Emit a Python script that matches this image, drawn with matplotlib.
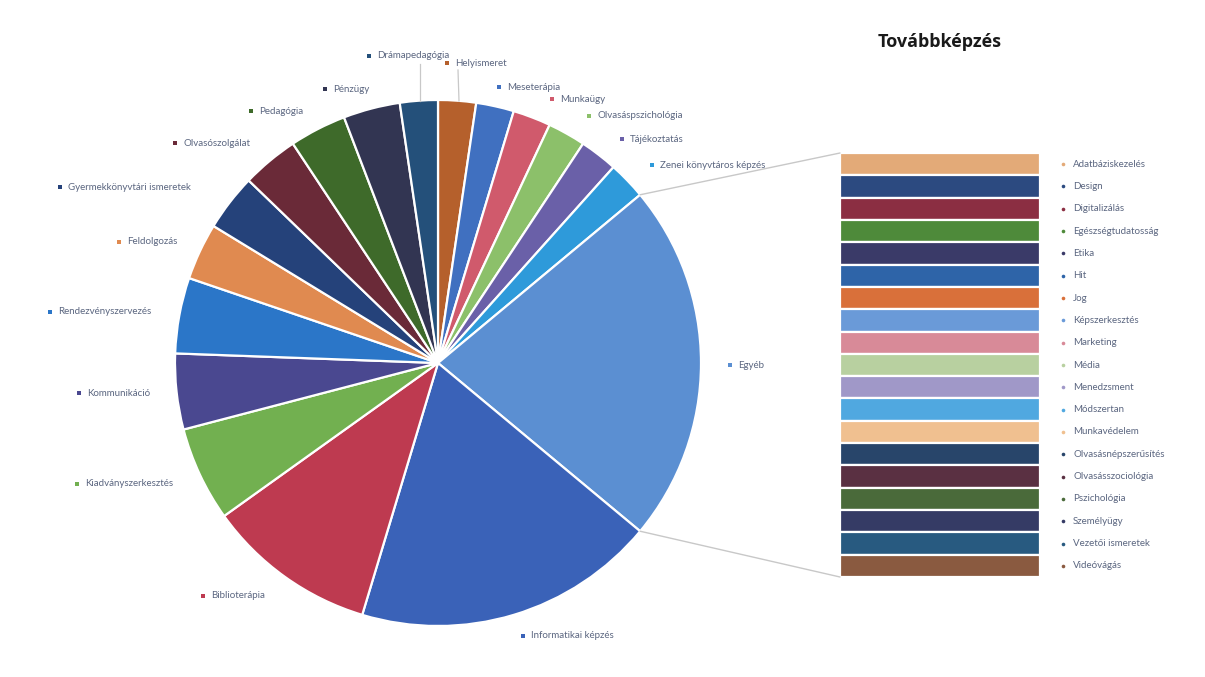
import matplotlib
matplotlib.use("Agg")
import matplotlib.pyplot as plt
from matplotlib.patches import ConnectionPatch
import numpy as np

# ---------------- data ----------------
pie_labels = ["Helyismeret", "Meseterápia", "Munkaügy", "Olvasáspszichológia",
              "Tájékoztatás", "Zenei könyvtáros képzés", "Egyéb",
              "Informatikai képzés", "Biblioterápia", "Kiadványszerkesztés",
              "Kommunikáció", "Rendezvényszervezés", "Feldolgozás",
              "Gyermekkönyvtári ismeretek", "Olvasószolgálat", "Pedagógia",
              "Pénzügy", "Drámapedagógia"]
pie_values = [2, 2, 2, 2, 2, 2, 19, 16, 9, 5, 4, 4, 3, 3, 3, 3, 3, 2]

bar_labels = ["Adatbáziskezelés", "Design", "Digitalizálás", "Egészségtudatosság",
              "Etika", "Hit", "Jog", "Képszerkesztés", "Marketing", "Média",
              "Menedzsment", "Módszertan", "Munkavédelem", "Olvasásnépszerűsítés",
              "Olvasásszociológia", "Pszichológia", "Személyügy",
              "Vezetői ismeretek", "Videóvágás"]
bar_values = [1] * 19

title = "Továbbképzés"

# ---------------- styles ----------------
pie_colors = ["#B5602C", "#4070C0", "#D05A6C", "#8CC06A", "#6A60A8", "#2E9ADA",
              "#5B8FD2", "#3A62B8", "#BE3A50", "#72B050", "#4A4890", "#2B76C8",
              "#E08A50", "#25427A", "#6A2A38", "#3E6A2A", "#323552", "#24507A"]
bar_colors = ["#E3AA78", "#2C4A80", "#8B2E42", "#4E8A3A", "#3A3A68", "#2E64A8",
              "#D9703A", "#6A9AD8", "#D88A98", "#B8D0A0", "#A098C8", "#50A8E0",
              "#F0C090", "#28456A", "#5A3042", "#4A6A3A", "#353B65", "#285A80",
              "#8A5A40"]
text_color = "#5b6680"

# layout (image pixel coordinates, y measured from top)
W, H = 1205, 677
pie_center = (438, 363)
pie_radius = 263
bar_box = (840, 153, 1040, 577)   # left, top, right, bottom
pie_label_pos = [(447, 63), (499, 87), (552, 99), (589, 116), (622, 139),
                 (652, 165), (730, 365), (523, 636), (203, 596), (77, 484),
                 (79, 393), (50, 312), (119, 242), (60, 187), (175, 143),
                 (251, 111), (325, 89), (369, 56)]
leader_lines = {"Drámapedagógia": (420, 64, 420, 101),
                "Helyismeret": (458, 70, 459, 101)}

plt.rcParams['font.family'] = ['Lato', 'DejaVu Sans']

fig = plt.figure(figsize=(W / 100, H / 100), dpi=100)
fig.patch.set_facecolor("white")

ax = fig.add_axes([0, 0, 1, 1])
ax.pie(pie_values, colors=pie_colors, startangle=90, counterclock=False,
       center=(pie_center[0], H - pie_center[1]), radius=pie_radius,
       wedgeprops=dict(edgecolor="white", linewidth=1.6))
ax.set_xlim(0, W)
ax.set_ylim(0, H)
ax.set_aspect("auto")
ax.axis("off")

for lab, col, (px, py) in zip(pie_labels, pie_colors, pie_label_pos):
    ax.plot([px], [H - py], marker="s", markersize=2.8, color=col,
            markeredgewidth=0)
    ax.text(px + 8, H - py, lab, fontsize=7, color=text_color,
            va="center", ha="left")

for lab, (x0, y0, x1, y1) in leader_lines.items():
    ax.plot([x0, x1], [H - y0, H - y1], color="#c8c8c8", lw=0.9)

# bar of pie
l, t, r, b = bar_box
axb = fig.add_axes([l / W, (H - b) / H, (r - l) / W, (b - t) / H])
n = len(bar_values)
tops = n - np.cumsum(bar_values)
axb.bar([0] * n, bar_values, bottom=tops, width=1.0, color=bar_colors,
        edgecolor="white", linewidth=1.6)
axb.set_xlim(-0.5, 0.5)
axb.set_ylim(0, sum(bar_values))
axb.axis("off")
for lab, col, bt, v in zip(bar_labels, bar_colors, tops, bar_values):
    yc = bt + v / 2
    axb.plot([0.615], [yc], marker="o", markersize=2.6, color=col,
             markeredgewidth=0, clip_on=False)
    axb.text(0.665, yc, lab, fontsize=7, color=text_color, va="center",
             ha="left", clip_on=False)

# connector lines from the "Egyéb" slice to the bar
total = sum(pie_values)
idx = pie_labels.index("Egyéb")
a_start = 90 - 360 * sum(pie_values[:idx]) / total
a_end = 90 - 360 * sum(pie_values[:idx + 1]) / total
cx, cy = pie_center[0], H - pie_center[1]
for ang, corner in [(a_start, (-0.5, sum(bar_values))), (a_end, (-0.5, 0))]:
    p = (cx + pie_radius * np.cos(np.radians(ang)),
         cy + pie_radius * np.sin(np.radians(ang)))
    con = ConnectionPatch(xyA=p, coordsA=ax.transData, xyB=corner,
                          coordsB=axb.transData, color="#c8c8c8", lw=1.0)
    fig.add_artist(con)

fig.text(940 / W, 1 - 42 / H, title, fontsize=13, fontweight="bold",
         family=["Open Sans", "DejaVu Sans"], color="#1a1a1a",
         ha="center", va="center")

fig.savefig("out.png", dpi=100, facecolor="white")
